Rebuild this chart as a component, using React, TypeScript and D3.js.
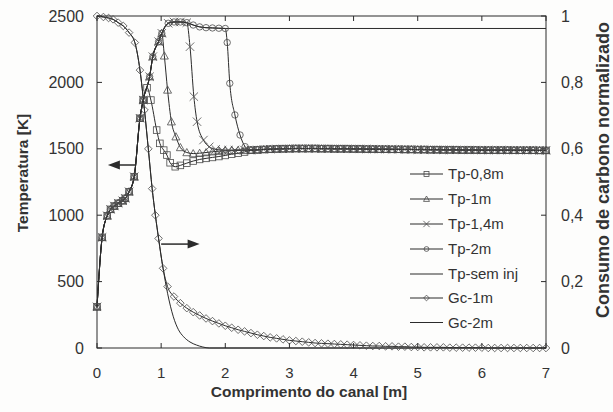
import React from 'react';
import * as d3 from 'd3';

type P = [number, number];

const X_TICKS = [0, 1, 2, 3, 4, 5, 6, 7];
const T_TICKS = [0, 500, 1000, 1500, 2000, 2500];
const G_TICKS = [0, 0.2, 0.4, 0.6, 0.8, 1];
const G_TICK_LABELS = ['0', '0,2', '0,4', '0,6', '0,8', '1'];

// temperature: shared heating part
const HEAD_T: P[] = [[0, 310], [0.08, 833], [0.16, 996], [0.21, 1044], [0.27, 1069], [0.33, 1090], [0.4, 1109], [0.44, 1127], [0.5, 1177], [0.58, 1290], [0.67, 1730], [0.72, 1867]];
const RISE_T: P[] = [[0.82, 2043], [0.87, 2194], [0.96, 2307], [1.01, 2370]];
const PEAK_T: P[] = [[1.11, 2445], [1.2, 2455], [1.3, 2455], [1.4, 2450]];
const PLATEAU_T: P[] = [[1.5, 2432], [1.6, 2418], [1.7, 2412], [1.8, 2410], [1.9, 2408], [2.0, 2406]];
const SEM_END: P[] = [[7, 2406]];

const TP08_DROP: P[] = [[0.78, 1960], [0.84, 1867], [0.93, 1641], [0.98, 1541], [1.04, 1490], [1.09, 1453], [1.14, 1395], [1.22, 1365], [1.3, 1375], [1.4, 1392], [1.5, 1408], [1.6, 1420], [1.7, 1428], [1.8, 1435], [1.9, 1442], [2.0, 1450], [2.1, 1460], [2.2, 1467], [2.3, 1476]];
const TP1_DROP: P[] = [[1.05, 2200], [1.1, 1943], [1.16, 1704], [1.23, 1591], [1.3, 1510], [1.4, 1472], [1.5, 1464], [1.6, 1467], [1.7, 1472], [1.8, 1478], [1.9, 1482], [2.0, 1485], [2.1, 1487], [2.2, 1488], [2.3, 1489]];
const TP14_DROP: P[] = [[1.45, 2269], [1.51, 1893], [1.56, 1704], [1.66, 1566], [1.75, 1515], [1.85, 1496], [1.95, 1491], [2.05, 1490], [2.15, 1491], [2.3, 1490]];
const TP2_DROP: P[] = [[2.03, 2300], [2.07, 1993], [2.15, 1755], [2.23, 1604], [2.31, 1516]];

const TAIL_X = d3.range(24, 71).map((i) => i / 10);
const TAIL_T = [
  1490, 1492, 1495, 1497, 1499, 1500, 1501, 1502, 1502, 1502,
  1502, 1501, 1501, 1500, 1500, 1500, 1499, 1499, 1498, 1498,
  1497, 1497, 1496, 1496, 1495, 1495, 1494, 1494, 1493, 1493,
  1492, 1492, 1492, 1491, 1491, 1491, 1490, 1490, 1490, 1490,
  1490, 1489, 1489, 1489, 1489, 1488, 1488,
];
const TAIL: P[] = TAIL_X.map((x, i) => [x, TAIL_T[i]]);

// carbon consumption (normalized)
const GC_HEAD: P[] = [[0, 1.0], [0.1, 0.997], [0.18, 0.994], [0.25, 0.99], [0.33, 0.98], [0.41, 0.97], [0.5, 0.95], [0.59, 0.92], [0.67, 0.837], [0.74, 0.717], [0.8, 0.6], [0.86, 0.48], [0.91, 0.4], [0.96, 0.33], [1.03, 0.24]];
const GC1_TAIL_X = d3.range(11, 71).map((i) => i / 10);
const GC1_TAIL_V = [
  0.185, 0.155, 0.135, 0.12, 0.108, 0.098, 0.089, 0.081, 0.074, 0.067,
  0.061, 0.055, 0.05, 0.045, 0.04, 0.036, 0.032, 0.029, 0.026, 0.023,
  0.021, 0.019, 0.017, 0.015, 0.014, 0.013, 0.012, 0.011, 0.01, 0.009,
  0.008, 0.007, 0.006, 0.006, 0.005, 0.005, 0.004, 0.004, 0.003, 0.003,
  0.002, 0.002, 0.002, 0.002, 0.001, 0.001, 0.001, 0.001, 0.001, 0.001,
  0, 0, 0, 0, 0, 0, 0, 0, 0, 0,
];
const GC1_TAIL: P[] = GC1_TAIL_X.map((x, i) => [x, GC1_TAIL_V[i]]);
const GC2_DROP: P[] = [[1.1, 0.165], [1.19, 0.094], [1.27, 0.055], [1.35, 0.034], [1.45, 0.018], [1.55, 0.009], [1.65, 0.003], [1.75, 0], [7, 0]];

const LEGEND_LABELS = ['Tp-0,8m', 'Tp-1m', 'Tp-1,4m', 'Tp-2m', 'Tp-sem inj', 'Gc-1m', 'Gc-2m'];

// annotation arrows [x0, x1, y] in data units
const ARROW_T = [0.6, 0.17, 1378];
const ARROW_G = [1.0, 1.6, 0.313];

type Marker = 'square' | 'triangle' | 'x' | 'circle' | 'diamond' | 'none';

interface Series { name: string; data: P[]; axis: 'T' | 'G'; marker: Marker; }

const SERIES: Series[] = [
  { name: LEGEND_LABELS[0], data: [...HEAD_T, ...TP08_DROP, ...TAIL], axis: 'T', marker: 'square' },
  { name: LEGEND_LABELS[1], data: [...HEAD_T, ...RISE_T, ...TP1_DROP, ...TAIL], axis: 'T', marker: 'triangle' },
  { name: LEGEND_LABELS[2], data: [...HEAD_T, ...RISE_T, ...PEAK_T, ...TP14_DROP, ...TAIL], axis: 'T', marker: 'x' },
  { name: LEGEND_LABELS[3], data: [...HEAD_T, ...RISE_T, ...PEAK_T, ...PLATEAU_T, ...TP2_DROP, ...TAIL], axis: 'T', marker: 'circle' },
  { name: LEGEND_LABELS[4], data: [...HEAD_T, ...RISE_T, ...PEAK_T, ...PLATEAU_T, ...SEM_END], axis: 'T', marker: 'none' },
  { name: LEGEND_LABELS[5], data: [...GC_HEAD, ...GC1_TAIL], axis: 'G', marker: 'diamond' },
  { name: LEGEND_LABELS[6], data: [...GC_HEAD, ...GC2_DROP], axis: 'G', marker: 'none' },
];

const W = 613, H = 412;
const L = 97, R = 546, T = 16, B = 348;
const INK = '#2b2b2b';
const MK = '#4a4a4a';
const FONT = '"Liberation Sans", Arial, Helvetica, sans-serif';

function MarkerShape({ type, x, y, s = 1 }: { type: Marker; x: number; y: number; s?: number }) {
  const st = { fill: 'none', stroke: MK, strokeWidth: 0.8 } as const;
  if (type === 'square') { const h = 3.3 * s; return <rect x={x - h} y={y - h} width={2 * h} height={2 * h} {...st} />; }
  if (type === 'triangle') { const h = 4 * s; return <path d={`M${x},${y - h}L${x + h},${y + h * 0.8}L${x - h},${y + h * 0.8}Z`} {...st} />; }
  if (type === 'x') { const h = 4.2 * s; return <path d={`M${x - h},${y - h}L${x + h},${y + h}M${x - h},${y + h}L${x + h},${y - h}`} {...st} />; }
  if (type === 'circle') return <circle cx={x} cy={y} r={3.2 * s} {...st} />;
  if (type === 'diamond') { const h = 3.8 * s; return <path d={`M${x},${y - h}L${x + h},${y}L${x},${y + h}L${x - h},${y}Z`} {...st} />; }
  return null;
}

export default function App() {
  const x = d3.scaleLinear().domain([0, 7]).range([L, R]);
  const yT = d3.scaleLinear().domain([0, 2500]).range([B, T]);
  const yG = d3.scaleLinear().domain([0, 1]).range([B, T]);

  const lineFor = (s: Series) =>
    d3.line<P>().x((d) => x(d[0])).y((d) => (s.axis === 'T' ? yT(d[1]) : yG(d[1]))).curve(d3.curveMonotoneX)(s.data) || '';

  const legendY = [174, 199, 224, 249, 274, 298, 322.5];

  const arrowT = { x0: x(ARROW_T[0]), x1: x(ARROW_T[1]), y: yT(ARROW_T[2]) };
  const arrowG = { x0: x(ARROW_G[0]), x1: x(ARROW_G[1]), y: yG(ARROW_G[2]) };

  return (
    <svg width={W} height={H} style={{ position: 'absolute', left: 0, top: 0, background: '#fff' }} fontFamily={FONT}>
      <rect width={W} height={H} fill="#fdfdfc" />
      {/* frame */}
      <rect x={L} y={T} width={R - L} height={B - T} fill="none" stroke={INK} strokeWidth={1} />
      {/* x ticks */}
      {X_TICKS.map((t) => (
        <g key={'x' + t}>
          <line x1={x(t)} x2={x(t)} y1={B} y2={B - 5} stroke={INK} />
          <line x1={x(t)} x2={x(t)} y1={T} y2={T + 5} stroke={INK} />
          <text x={x(t)} y={378} fontSize={15} textAnchor="middle" fill="#333">{t}</text>
        </g>
      ))}
      {T_TICKS.map((t) => (
        <g key={'t' + t}>
          <line x1={L} x2={L + 5} y1={yT(t)} y2={yT(t)} stroke={INK} />
          <text x={84} y={yT(t) + 5.5} fontSize={16} textAnchor="end" fill="#333">{t}</text>
        </g>
      ))}
      {G_TICKS.map((t, i) => (
        <g key={'g' + t}>
          <line x1={R} x2={R - 5} y1={yG(t)} y2={yG(t)} stroke={INK} />
          <text x={561} y={yG(t) + 5.5} fontSize={16} textAnchor="start" fill="#333">{G_TICK_LABELS[i]}</text>
        </g>
      ))}
      {/* titles */}
      <text x={309} y={397} fontSize={15.5} fontWeight="bold" textAnchor="middle" fill="#333">Comprimento do canal [m]</text>
      <text transform="translate(28,173) rotate(-90)" fontSize={15.5} fontWeight="bold" textAnchor="middle" fill="#333">Temperatura [K]</text>
      <text transform="translate(609,170) rotate(-90)" fontSize={18} fontWeight="bold" textAnchor="middle" fill="#333">Consumo de carbono normalizado</text>

      {/* lines */}
      {SERIES.map((s) => (
        <path key={'l' + s.name} d={lineFor(s)} fill="none" stroke={INK} strokeWidth={1} />
      ))}
      {/* markers */}
      {SERIES.map((s) =>
        s.marker === 'none' ? null : (
          <g key={'m' + s.name}>
            {s.data.map((d, i) => (
              <MarkerShape key={i} type={s.marker} x={x(d[0])} y={s.axis === 'T' ? yT(d[1]) : yG(d[1])} />
            ))}
          </g>
        )
      )}

      {/* arrows */}
      <line x1={arrowT.x0} x2={arrowT.x1 + 8} y1={arrowT.y} y2={arrowT.y} stroke={INK} strokeWidth={1.5} />
      <path d={`M${arrowT.x1},${arrowT.y}L${arrowT.x1 + 12},${arrowT.y - 4.5}L${arrowT.x1 + 12},${arrowT.y + 4.5}Z`} fill={INK} />
      <line x1={arrowG.x0} x2={arrowG.x1 - 8} y1={arrowG.y} y2={arrowG.y} stroke={INK} strokeWidth={1.5} />
      <path d={`M${arrowG.x1},${arrowG.y}L${arrowG.x1 - 12},${arrowG.y - 4.5}L${arrowG.x1 - 12},${arrowG.y + 4.5}Z`} fill={INK} />

      {/* legend */}
      {SERIES.map((s, i) => (
        <g key={'lg' + s.name}>
          <line x1={410} x2={443} y1={legendY[i]} y2={legendY[i]} stroke={INK} strokeWidth={1} />
          <MarkerShape type={s.marker} x={426.5} y={legendY[i]} s={0.75} />
          <text x={448} y={legendY[i] + 5.3} fontSize={15} fill="#333">{s.name}</text>
        </g>
      ))}
    </svg>
  );
}
